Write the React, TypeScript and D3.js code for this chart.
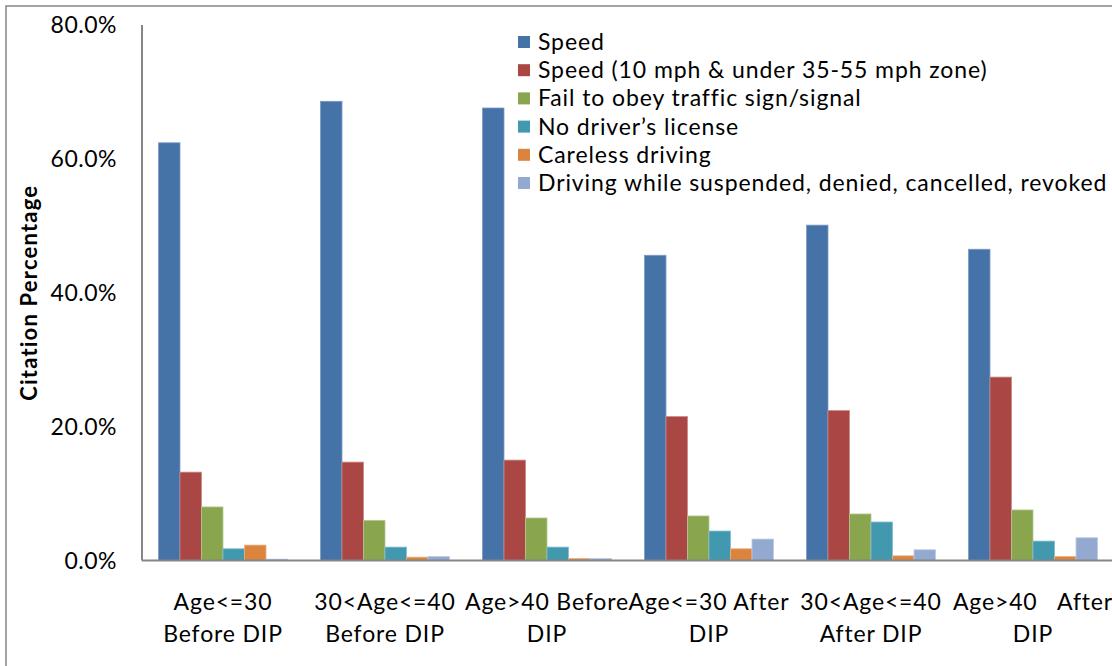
import React from "react";
import * as d3 from "d3";

const categories: string[][] = [
  ["Age<=30", "Before DIP"],
  ["30<Age<=40", "Before DIP"],
  ["Age>40 Before", "DIP"],
  ["Age<=30 After", "DIP"],
  ["30<Age<=40", "After DIP"],
  ["Age>40   After", "DIP"],
];

const seriesNames = [
  "Speed",
  "Speed (10 mph & under 35-55 mph zone)",
  "Fail to obey traffic sign/signal",
  "No driver\u2019s license",
  "Careless driving",
  "Driving while suspended, denied, cancelled, revoked",
];

const speed = [62.4, 68.6, 67.6, 45.6, 50.1, 46.5];
const speedSmall = [13.2, 14.7, 15.0, 21.5, 22.4, 27.4];
const failObey = [8.0, 6.0, 6.35, 6.65, 6.95, 7.55];
const noLicense = [1.75, 2.0, 2.0, 4.4, 5.75, 2.9];
const careless = [2.3, 0.5, 0.3, 1.75, 0.7, 0.6];
const suspended = [0.2, 0.6, 0.3, 3.2, 1.6, 3.4];

const seriesValues = [speed, speedSmall, failObey, noLicense, careless, suspended];
const colors = ["#4572A7", "#AA4643", "#89A54E", "#4198AF", "#DB843D", "#93A9CF"];
const strokes = ["#7D9BC6", "#CB8A88", "#B2C98E", "#82BED0", "#EBB083", "#BCCAE4"];

const yTicks = [0, 20, 40, 60, 80];

const W = 1112;
const H = 666;
const FONT = "Lato, 'Open Sans', sans-serif";

export default function App() {
  const x0 = d3.scaleBand<number>().domain(d3.range(categories.length)).range([142, 1114]).padding(0);
  const x1 = d3
    .scaleBand<number>()
    .domain(d3.range(seriesNames.length))
    .range([0, x0.bandwidth()])
    .paddingInner(0)
    .paddingOuter(0.767);
  const y = d3.scaleLinear().domain([0, 80]).range([560.5, 25]);
  const fmt = d3.format(".1f");

  return (
    <svg
      width={W}
      height={H}
      style={{ position: "absolute", left: 0, top: 0, background: "#fff" }}
      fontFamily={FONT}
    >
      <rect x={0} y={0} width={W} height={H} fill="#fff" />
      <rect x={6} y={6} width={W + 20} height={H + 20} fill="none" stroke="#868686" strokeWidth={1.5} />

      {/* bars */}
      {seriesValues.map((vals, si) =>
        vals.map((v, ci) => (
          <rect
            key={`${si}-${ci}`}
            x={(x0(ci) as number) + (x1(si) as number)}
            y={y(v)}
            width={x1.bandwidth()}
            height={y(0) - y(v)}
            fill={colors[si]}
            stroke={strokes[si]}
            strokeWidth={0.8}
          />
        ))
      )}

      {/* axes */}
      <line x1={142} x2={142} y1={y(80)} y2={y(0)} stroke="#868686" strokeWidth={2} />
      <line x1={142} x2={W} y1={y(0)} y2={y(0)} stroke="#868686" strokeWidth={2.2} />

      {yTicks.map((t) => (
        <text key={t} x={117} y={y(t)} dy="0.35em" textAnchor="end" fontSize={23} letterSpacing={0.5} fill="#000">
          {fmt(t)}%
        </text>
      ))}

      {categories.map((lines, ci) => {
        const cx = (x0(ci) as number) + x0.bandwidth() / 2;
        return lines.map((ln, li) => (
          <text
            key={`${ci}-${li}`}
            x={cx}
            y={602 + li * 32}
            dy="0.35em"
            textAnchor="middle"
            fontSize={23}
            letterSpacing={0.85}
            style={{ whiteSpace: "pre" }}
          >
            {ln}
          </text>
        ));
      })}

      <text
        transform={`translate(29,${(y(0) + y(80)) / 2}) rotate(-90)`}
        textAnchor="middle"
        dy="0.35em"
        fontSize={22}
        fontWeight="bold"
        letterSpacing={1.2}
      >
        Citation Percentage
      </text>

      {/* legend */}
      {seriesNames.map((name, i) => (
        <g key={name} transform={`translate(518,${42 + i * 28.2})`}>
          <rect x={0} y={-6} width={12} height={12} fill={colors[i]} />
          <text x={20} y={0} dy="0.35em" fontSize={23} letterSpacing={0.9}>
            {name}
          </text>
        </g>
      ))}
    </svg>
  );
}
